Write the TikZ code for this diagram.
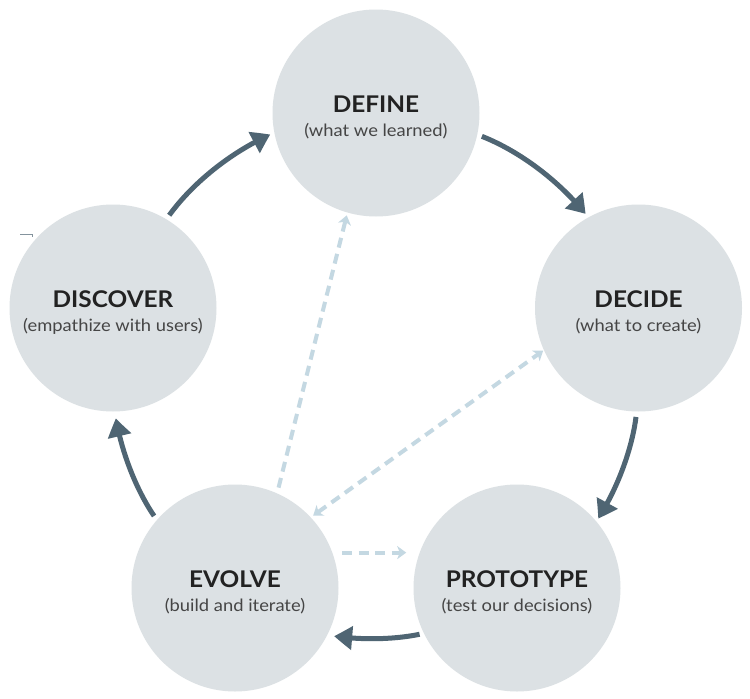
\documentclass[tikz,border=0pt]{standalone}
\usepackage{fontspec}
\setmainfont{Lato}
\newfontfamily\titlefont[FakeStretch=1.06]{Lato}
\newfontfamily\subfont[FakeStretch=1.08]{Lato}
\usetikzlibrary{arrows.meta,bending}
\definecolor{circfill}{HTML}{DCE1E4}
\definecolor{arrowdark}{HTML}{4F6573}
\definecolor{dashblue}{HTML}{C4D8E2}
\definecolor{titlecol}{HTML}{222222}
\definecolor{subcol}{HTML}{454545}
\tikzset{
  phase/.style={circle, fill=circfill, minimum size=207pt, inner sep=0pt, outer sep=0pt},
  ptitle/.style={anchor=base, inner sep=0pt, text=titlecol, font=\titlefont\fontsize{23}{23}\selectfont\bfseries},
  psub/.style={anchor=base, inner sep=0pt, text=subcol, font=\subfont\fontsize{17}{17}\selectfont},
  cyc/.style={draw=arrowdark, line width=5pt, -{Triangle[length=18pt,width=23pt,bend]}, looseness=0.85},
  link/.style={draw=dashblue, line width=4pt, dash pattern=on 10pt off 6.5pt, -{Stealth[length=9pt,width=13pt,inset=2.5pt]}},
  biglink/.style={link, {Stealth[length=9pt,width=13pt,inset=2.5pt]}-{Stealth[length=9pt,width=13pt,inset=2.5pt]}}
}
\begin{document}
\begin{tikzpicture}[x=1pt,y=-1pt]
\useasboundingbox (0,0) rectangle (750,699);
\fill[white] (0,0) rectangle (750,699);
% phases
\node[phase] (def) at (376,113) {};
\node[phase] (dec) at (638.5,308) {};
\node[phase] (pro) at (517,588) {};
\node[phase] (evo) at (235,588) {};
\node[phase] (dis) at (113,308) {};
% texts
\node[ptitle] (deft) at ([yshift=1pt]def.center) {DEFINE};
\node[psub] (defs) at ([yshift=-23pt]def.center) {(what we learned)};
\node[ptitle] (dect) at ([yshift=1pt]dec.center) {DECIDE};
\node[psub] (decs) at ([yshift=-23pt]dec.center) {(what to create)};
\node[ptitle] (prot) at ([yshift=1pt]pro.center) {PROTOTYPE};
\node[psub] (pros) at ([yshift=-23pt]pro.center) {(test our decisions)};
\node[ptitle] (evot) at ([yshift=1pt]evo.center) {EVOLVE};
\node[psub] (evos) at ([yshift=-23pt]evo.center) {(build and iterate)};
\node[ptitle] (dist) at ([yshift=1pt]dis.center) {DISCOVER};
\node[psub] (diss) at ([yshift=-23pt]dis.center) {(empathize with users)};
% cycle arrows
\draw[cyc, shorten <=5pt, shorten >=4.5pt] (dis.59.7) to[bend left=15.4] (def.191.3);
\draw[cyc, shorten <=5pt, shorten >=4.5pt] (def.348.7) to[bend left=15.3] (dec.119.8);
\draw[cyc, shorten <=5.5pt, shorten >=3.5pt] (dec.269.3) to[bend left=13] (pro.40.5);
\draw[cyc, shorten <=4.5pt, shorten >=7pt] (pro.206.8) to[bend left=10.7] (evo.333.2);
\draw[cyc, shorten <=5pt, shorten >=7pt] (evo.139.5) to[bend left=13] (dis.271.3);
% dashed links
\draw[link, shorten <=6pt, shorten >=3pt] (evo.66) -- (def.254);
\draw[biglink, shorten <=3pt, shorten >=1pt] (evo.43) -- (dec.204);
\draw[link, shorten <=10pt, shorten >=13.5pt] (evo.20) -- (pro.160);
% small stray mark
\draw[draw=arrowdark!70, line width=0.9pt] (20,234.5) -- (32,234.5) -- (32,237);
\end{tikzpicture}
\end{document}
